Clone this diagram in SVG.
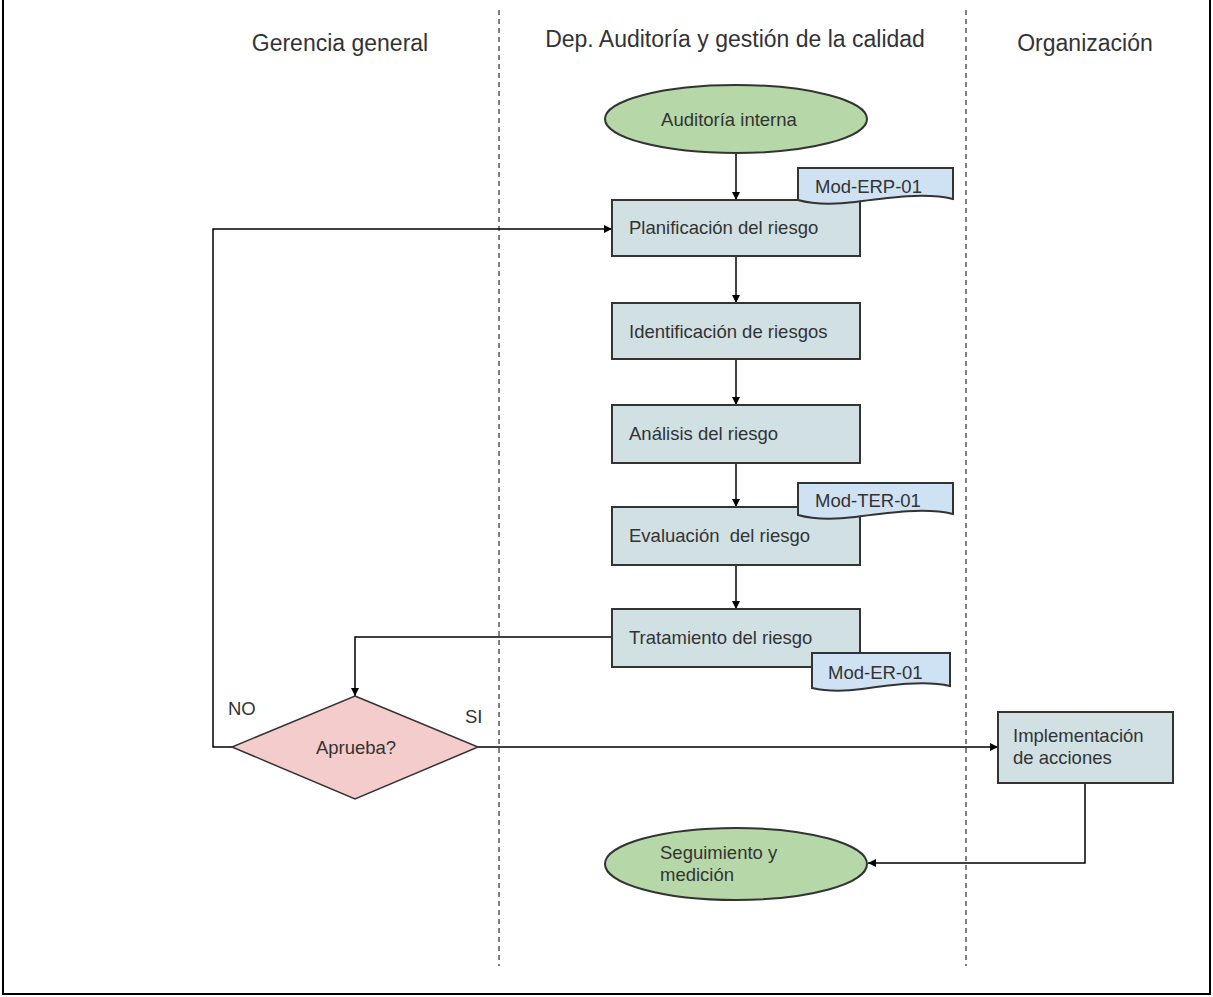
<svg xmlns="http://www.w3.org/2000/svg" width="1213" height="997" viewBox="0 0 1213 997">
<defs>
<marker id="arr" viewBox="0 0 10 10" refX="10" refY="5" markerWidth="8" markerHeight="8" markerUnits="userSpaceOnUse" orient="auto">
<path d="M0,0 L10,5 L0,10 Z" fill="#000"/>
</marker>
<style>
text{font-family:"Liberation Sans",Arial,sans-serif;fill:#333;white-space:pre;}
.hdr{font-size:23px;}
.lbl{font-size:18.5px;}
.proc{fill:#d0e0e3;stroke:#333;stroke-width:2;}
.term{fill:#b6d7a8;stroke:#333;stroke-width:2;}
.dec{fill:#f4cccc;stroke:#333;stroke-width:1.5;}
.doc{fill:#cfe2f3;stroke:#333;stroke-width:2;}
.conn{fill:none;stroke:#000;stroke-width:1.5;}
.lane{stroke:#000;stroke-width:1;stroke-dasharray:5,4;}
</style>
</defs>
<rect x="0" y="0" width="1213" height="997" fill="#fff"/>
<rect x="3" y="-2" width="1207" height="996" fill="none" stroke="#000" stroke-width="2"/>
<g id="lanes">
<line class="lane" x1="499" y1="10" x2="499" y2="966"/>
<line class="lane" x1="966" y1="10" x2="966" y2="966"/>
<text class="hdr" x="340" y="51" text-anchor="middle">Gerencia general</text>
<text class="hdr" x="735" y="47" text-anchor="middle">Dep. Auditoría y gestión de la calidad</text>
<text class="hdr" x="1085" y="51" text-anchor="middle">Organización</text>
</g>
<g id="connectors">
<line class="conn" x1="736" y1="153" x2="736" y2="200" marker-end="url(#arr)"/>
<line class="conn" x1="736" y1="256" x2="736" y2="303" marker-end="url(#arr)"/>
<line class="conn" x1="736" y1="359" x2="736" y2="405" marker-end="url(#arr)"/>
<line class="conn" x1="736" y1="463" x2="736" y2="507" marker-end="url(#arr)"/>
<line class="conn" x1="736" y1="565" x2="736" y2="609" marker-end="url(#arr)"/>
<polyline class="conn" points="612,637 355,637 355,696" marker-end="url(#arr)"/>
<polyline class="conn" points="232,747 213,747 213,229 612,229" marker-end="url(#arr)"/>
<line class="conn" x1="478" y1="747" x2="998" y2="747" marker-end="url(#arr)"/>
<polyline class="conn" points="1085,783 1085,863 868,863" marker-end="url(#arr)"/>
</g>
<g id="n-auditoria">
<ellipse class="term" cx="736" cy="119" rx="131" ry="34"/>
<text class="lbl" x="729" y="126" text-anchor="middle">Auditoría interna</text>
</g>
<g id="n-planificacion">
<rect class="proc" x="612" y="200" width="248" height="56"/>
<text class="lbl" x="629" y="234">Planificación del riesgo</text>
</g>
<g id="d-erp">
<path class="doc" d="M798,168 H953 V199 C925,192 885,198 855,202 C830,205 812,204 798,200 Z"/>
<text class="lbl" x="815" y="193">Mod-ERP-01</text>
</g>
<g id="n-identificacion">
<rect class="proc" x="612" y="303" width="248" height="56"/>
<text class="lbl" x="629" y="338">Identificación de riesgos</text>
</g>
<g id="n-analisis">
<rect class="proc" x="612" y="405" width="248" height="58"/>
<text class="lbl" x="629" y="440">Análisis del riesgo</text>
</g>
<g id="n-evaluacion">
<rect class="proc" x="612" y="507" width="248" height="58"/>
<text class="lbl" x="629" y="542">Evaluación  del riesgo</text>
</g>
<g id="d-ter">
<path class="doc" d="M798,483 H953 V514 C925,507 885,513 855,517 C830,520 812,519 798,515 Z"/>
<text class="lbl" x="815" y="507">Mod-TER-01</text>
</g>
<g id="n-tratamiento">
<rect class="proc" x="612" y="609" width="248" height="58"/>
<text class="lbl" x="629" y="644">Tratamiento del riesgo</text>
</g>
<g id="d-er">
<path class="doc" d="M812,653 H950 V686 C925,680 890,685 862,689 C840,692 825,691 812,688 Z"/>
<text class="lbl" x="828" y="679">Mod-ER-01</text>
</g>
<g id="n-aprueba">
<polygon class="dec" points="355,696 478,747 355,799 232,747"/>
<text class="lbl" x="356" y="754" text-anchor="middle">Aprueba?</text>
<text class="lbl" x="228" y="715">NO</text>
<text class="lbl" x="465" y="723">SI</text>
</g>
<g id="n-implementacion">
<rect class="proc" x="998" y="712" width="175" height="71"/>
<text class="lbl" x="1013" y="742">Implementación</text>
<text class="lbl" x="1013" y="764">de acciones</text>
</g>
<g id="n-seguimiento">
<ellipse class="term" cx="736" cy="864" rx="131" ry="36"/>
<text class="lbl" x="660" y="859">Seguimiento y</text>
<text class="lbl" x="660" y="881">medición</text>
</g>
</svg>
